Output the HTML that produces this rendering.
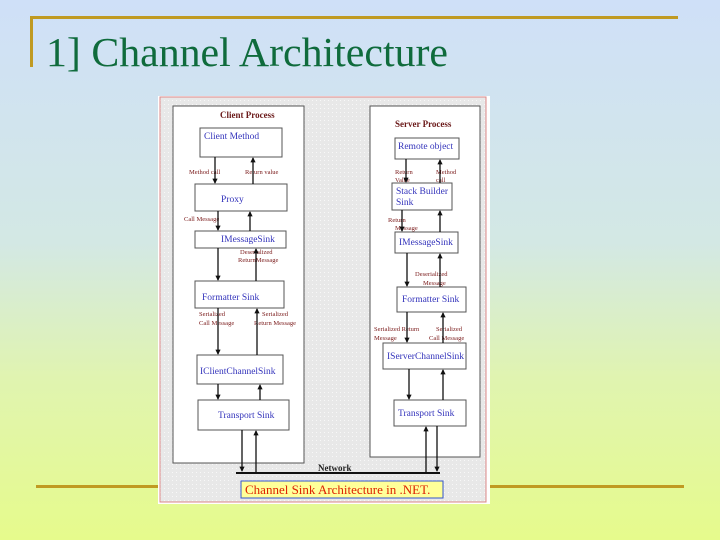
<!DOCTYPE html>
<html><head><style>
html,body{margin:0;padding:0;}
body{width:720px;height:540px;overflow:hidden;background:linear-gradient(#cfe0f8 0%,#d3e8e4 45%,#e0f4b0 70%,#e6fb8c 100%);position:relative;font-family:"Liberation Serif",serif;}
</style></head><body>
<svg width="720" height="540" style="position:absolute;left:0;top:0" font-family="Liberation Serif, serif">
<defs>
<pattern id="dots" width="4" height="4" patternUnits="userSpaceOnUse"><rect width="4" height="4" fill="#e8e8e8"/><rect width="1" height="1" fill="#f8f8f8"/></pattern>
<marker id="a" viewBox="0 0 6 6" refX="5" refY="3" markerWidth="4" markerHeight="4" orient="auto"><path d="M0,0 L6,3 L0,6 z" fill="#111"/></marker>
</defs>
<rect x="30" y="16" width="648" height="3" fill="#c09a22"/>
<rect x="30" y="16" width="3" height="51" fill="#c09a22"/>
<rect x="36" y="485" width="648" height="3" fill="#c09a22"/>
<text x="46" y="66" font-size="41" fill="#0f6b3c" textLength="402" lengthAdjust="spacingAndGlyphs">1] Channel Architecture</text>
<rect x="158" y="96" width="332" height="408" fill="#fff"/>
<rect x="160" y="97" width="326" height="405" fill="url(#dots)" stroke="#d88" stroke-width="1"/>
<rect x="173" y="106" width="131" height="357" fill="#fff" stroke="#555"/>
<rect x="370" y="106" width="110" height="351" fill="#fff" stroke="#555"/>
<g font-size="9" font-weight="bold" fill="#6b1a1a">
<text x="220" y="118">Client Process</text>
<text x="395" y="127">Server Process</text>
<text x="318" y="471" fill="#222">Network</text>
</g>
<g fill="#fff" stroke="#555">
<rect x="200" y="128" width="82" height="29"/>
<rect x="195" y="184" width="92" height="27"/>
<rect x="195" y="231" width="91" height="17"/>
<rect x="195" y="281" width="89" height="27"/>
<rect x="197" y="355" width="86" height="29"/>
<rect x="198" y="400" width="91" height="30"/>
<rect x="395" y="138" width="64" height="21"/>
<rect x="392" y="183" width="60" height="27"/>
<rect x="395" y="232" width="63" height="21"/>
<rect x="397" y="287" width="69" height="25"/>
<rect x="383" y="343" width="83" height="26"/>
<rect x="394" y="400" width="72" height="26"/>
</g>
<g font-size="9.5" fill="#3333bb">
<text x="204" y="139">Client Method</text>
<text x="221" y="202">Proxy</text>
<text x="221" y="242">IMessageSink</text>
<text x="202" y="300">Formatter Sink</text>
<text x="200" y="374">IClientChannelSink</text>
<text x="218" y="418">Transport Sink</text>
<text x="398" y="149">Remote object</text>
<text x="396" y="194">Stack Builder</text>
<text x="396" y="205">Sink</text>
<text x="399" y="245">IMessageSink</text>
<text x="402" y="302">Formatter Sink</text>
<text x="387" y="359">IServerChannelSink</text>
<text x="398" y="416">Transport Sink</text>
</g>
<g font-size="6.5" fill="#7a1a1a">
<text x="189" y="174">Method call</text>
<text x="245" y="174">Return value</text>
<text x="184" y="221">Call Message</text>
<text x="240" y="254">Deserialized</text>
<text x="238" y="262">ReturnMessage</text>
<text x="199" y="316">Serialized</text>
<text x="199" y="325">Call Message</text>
<text x="262" y="316">Serialized</text>
<text x="254" y="325">Return Message</text>
<text x="395" y="174">Return</text>
<text x="395" y="182">Value</text>
<text x="436" y="174">Method</text>
<text x="436" y="182">call</text>
<text x="388" y="222">Return</text>
<text x="395" y="230">Message</text>
<text x="415" y="276">Deserialized</text>
<text x="423" y="285">Message</text>
<text x="374" y="331">Serialized Return</text>
<text x="374" y="340">Message</text>
<text x="436" y="331">Serialized</text>
<text x="429" y="340">Call Message</text>
</g>
<g stroke="#111" stroke-width="1.3" marker-end="url(#a)">
<line x1="215" y1="157" x2="215" y2="183"/>
<line x1="253" y1="184" x2="253" y2="158"/>
<line x1="218" y1="211" x2="218" y2="230"/>
<line x1="250" y1="231" x2="250" y2="212"/>
<line x1="218" y1="248" x2="218" y2="280"/>
<line x1="256" y1="281" x2="256" y2="249"/>
<line x1="218" y1="308" x2="218" y2="354"/>
<line x1="257" y1="355" x2="257" y2="309"/>
<line x1="218" y1="384" x2="218" y2="399"/>
<line x1="260" y1="400" x2="260" y2="385"/>
<line x1="242" y1="430" x2="242" y2="471"/>
<line x1="256" y1="472" x2="256" y2="431"/>
<line x1="406" y1="159" x2="406" y2="182"/>
<line x1="440" y1="183" x2="440" y2="160"/>
<line x1="402" y1="210" x2="402" y2="231"/>
<line x1="440" y1="232" x2="440" y2="211"/>
<line x1="407" y1="253" x2="407" y2="286"/>
<line x1="440" y1="287" x2="440" y2="254"/>
<line x1="407" y1="312" x2="407" y2="342"/>
<line x1="443" y1="343" x2="443" y2="313"/>
<line x1="409" y1="369" x2="409" y2="399"/>
<line x1="443" y1="400" x2="443" y2="370"/>
<line x1="426" y1="472" x2="426" y2="427"/>
<line x1="437" y1="426" x2="437" y2="471"/>
</g>
<line x1="236" y1="473" x2="440" y2="473" stroke="#111" stroke-width="2"/>
<rect x="241" y="481" width="202" height="17" fill="#ffff99" stroke="#3355cc"/>
<text x="245" y="494" font-size="13" fill="#dd2200">Channel Sink Architecture in .NET.</text>
</svg>
</body></html>
